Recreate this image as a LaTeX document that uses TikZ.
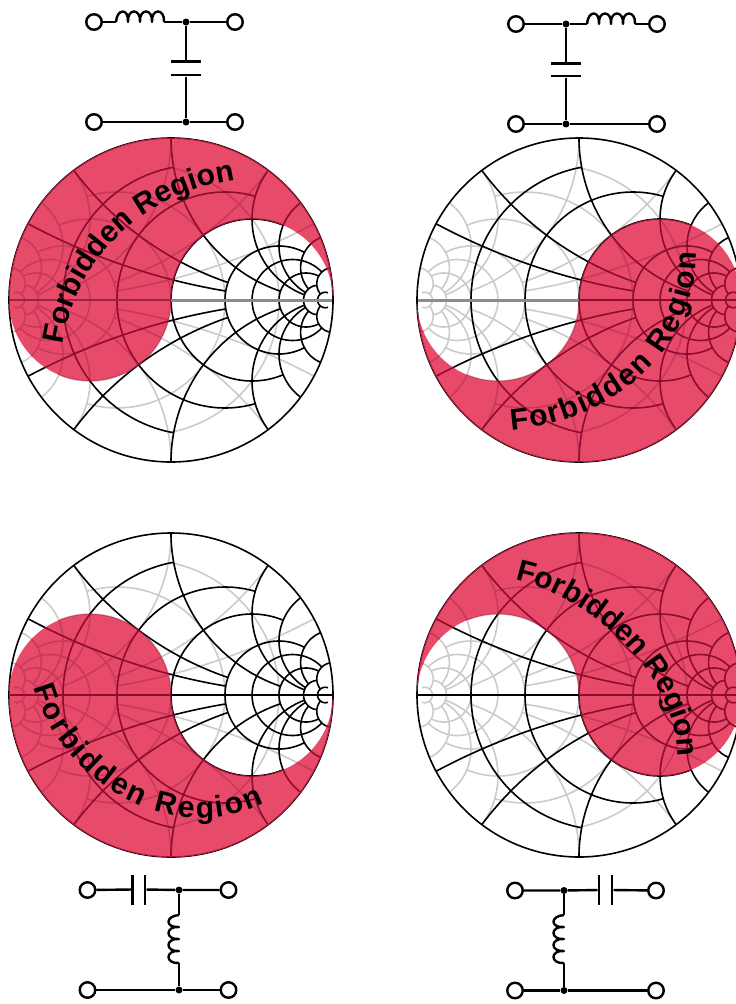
\documentclass[tikz,border=0pt]{standalone}
\usepackage{fontspec}
\usetikzlibrary{decorations.text}
\newfontfamily\lblfam{Liberation Sans}
\newcommand{\lbl}{\lblfam\bfseries\fontsize{30}{32}\selectfont}
\definecolor{pinkfill}{HTML}{E84A69}
\definecolor{greyline}{HTML}{CBCBCB}
\definecolor{greypink}{HTML}{C93A5A}
\definecolor{darkpink}{HTML}{8E0C30}
\definecolor{rimpink}{HTML}{B0143A}
\tikzset{
  declare function={smu(\r,\x)=(\r*\r+\x*\x-1)/((\r+1)*(\r+1)+\x*\x);
                    smv(\r,\x)=2*\x/((\r+1)*(\r+1)+\x*\x);},
  term/.style={circle,draw=black,fill=white,line width=2.4pt,minimum size=15.5pt,inner sep=0pt},
  junct/.style={circle,fill=black,minimum size=7pt,inner sep=0pt},
  wire/.style={line width=2.4pt,draw=black},
  plateh/.style={rectangle,fill=black,minimum width=30pt,minimum height=2.6pt,inner sep=0pt},
  platev/.style={rectangle,fill=black,minimum width=2.6pt,minimum height=30pt,inner sep=0pt},
  gridline/.style={line width=1.6pt,line join=round},
  forbid/.style={decorate,decoration={text along path,text={|\lbl|Forbidden Region},text align={fit to path}}},
  pics/coil/.style={code={
    \draw[wire,line join=round] (0,0) .. controls (1,-14) and (13,-14) .. (12,0)
      .. controls (11,-14) and (25,-14) .. (24,0)
      .. controls (23,-14) and (37,-14) .. (36,0)
      .. controls (35,-14) and (49,-14) .. (48,0);
  }}
}
% one family of Smith-chart curves, centre at the local origin
\newcommand{\smithgrid}[1]{%
  \foreach \rr/\xm in {0.2/1,0.5/2,1/3,2/5,3/10,5/10,10/10,20/30}{
    \draw[gridline,#1] plot[smooth,domain=-1:1,samples=41,variable=\t]
      ({162*smu(\rr,\xm*\t)},{162*smv(\rr,\xm*\t)});
  }
  \foreach \xx/\rm in {0.25/2,0.5/2,1/5,2/10,3/10,5/10,10/20}{
    \draw[gridline,#1] plot[smooth,domain=0:1,samples=31,variable=\t]
      ({162*smu(\rm*\t*\t,\xx)},{162*smv(\rm*\t*\t,\xx)});
    \draw[gridline,#1] plot[smooth,domain=0:1,samples=31,variable=\t]
      ({162*smu(\rm*\t*\t,-\xx)},{162*smv(\rm*\t*\t,-\xx)});
  }
}
% #1 cx, #2 cy, #3 pink path, #4 axis style on white, #5 axis style on pink
\newcommand{\smithchart}[5]{%
  \begin{scope}[shift={(#1,#2)}]
    \begin{scope}[xscale=-1]\smithgrid{greyline}\end{scope}
    \smithgrid{black}
    \draw[#4] (-162,0) -- (162,0);
    \draw[gridline,black] (0,0) circle[radius=162];
    \begin{scope}
      \path[clip] #3;
      \fill[pinkfill] (-170,-170) rectangle (170,170);
      \begin{scope}[xscale=-1]\smithgrid{greypink}\end{scope}
      \smithgrid{darkpink}
      \draw[#5] (-162,0) -- (162,0);
      \draw[gridline,rimpink] (0,0) circle[radius=162];
    \end{scope}
  \end{scope}
}
\begin{document}
\begin{tikzpicture}[x=1pt,y=-1pt]
\useasboundingbox (0,0) rectangle (736,1004);
\clip (0,0) rectangle (736,1004);

\smithchart{171}{300}{(162,0) arc[start angle=0,end angle=-180,radius=162] arc[start angle=180,end angle=0,radius=81] arc[start angle=180,end angle=360,radius=81] -- cycle}
  {line width=3pt,draw=black!45}{line width=2.6pt,draw=darkpink!90}
\smithchart{579}{300}{(-162,0) arc[start angle=180,end angle=0,radius=162] arc[start angle=0,end angle=-180,radius=81] arc[start angle=0,end angle=180,radius=81] -- cycle}
  {line width=3pt,draw=black!45}{line width=1.3pt,draw=darkpink}
\smithchart{171}{695}{(-162,0) arc[start angle=180,end angle=0,radius=162] arc[start angle=0,end angle=180,radius=81] arc[start angle=0,end angle=-180,radius=81] -- cycle}
  {line width=1.5pt,draw=black}{line width=1.5pt,draw=darkpink}
\smithchart{579}{695}{(-162,0) arc[start angle=180,end angle=360,radius=162] arc[start angle=0,end angle=180,radius=81] arc[start angle=0,end angle=-180,radius=81] -- cycle}
  {line width=1.5pt,draw=black}{line width=1.5pt,draw=darkpink}

\path[forbid] (63,345) .. controls (75,265) and (135,195) .. (235,180);
\path[forbid] (511,430) .. controls (590,425) and (695,370) .. (696,252);
\path[forbid] (34,687) .. controls (60,780) and (170,850) .. (264,803);
\path[forbid] (515,580) .. controls (590,595) and (675,675) .. (678,753);

% top-left network
\node[term] (a1) at (94,22) {};
\node[term] (a2) at (235,22) {};
\node[term] (a3) at (94,122) {};
\node[term] (a4) at (235,122) {};
\node[junct] (aj) at (186,22) {};
\node[junct] (ak) at (186,122) {};
\coordinate (a5) at (116,22);
\coordinate (a6) at (164,22);
\node[plateh] (a7) at (186,61.5) {};
\node[plateh] (a8) at (186,75) {};
\draw[wire] (a1) -- (a5);
\pic at (a5) {coil};
\draw[wire] (a6) -- (aj) -- (a2);
\draw[wire] (aj) -- (a7);
\draw[wire] (a8) -- (ak);
\draw[wire] (a3) -- (ak) -- (a4);

% top-right network
\node[term] (b1) at (516,24) {};
\node[term] (b2) at (657,24) {};
\node[term] (b3) at (516,124) {};
\node[term] (b4) at (657,124) {};
\node[junct] (bj) at (566,24) {};
\node[junct] (bk) at (566,124) {};
\coordinate (b5) at (587,24);
\coordinate (b6) at (635,24);
\node[plateh] (b7) at (566,63.5) {};
\node[plateh] (b8) at (566,76) {};
\draw[wire] (b1) -- (bj) -- (b5);
\pic at (b5) {coil};
\draw[wire] (b6) -- (b2);
\draw[wire] (bj) -- (b7);
\draw[wire] (b8) -- (bk);
\draw[wire] (b3) -- (bk) -- (b4);

% bottom-left network
\node[term] (c1) at (87.5,890) {};
\node[term] (c2) at (228.5,890) {};
\node[term] (c3) at (87.5,990) {};
\node[term] (c4) at (228.5,990) {};
\node[junct] (cj) at (179,890) {};
\node[junct] (ck) at (179,990) {};
\node[platev] (c7) at (132.5,889.5) {};
\node[platev] (c8) at (145,889.5) {};
\coordinate (c5) at (179,915);
\coordinate (c6) at (179,963);
\draw[wire] (c1) -- (c7);
\draw[wire] (c8) -- (cj) -- (c2);
\draw[wire] (cj) -- (c5);
\pic[rotate=-90,yscale=-1] at (c5) {coil};
\draw[wire] (c6) -- (ck);
\draw[wire] (c3) -- (ck) -- (c4);

% bottom-right network
\node[term] (d1) at (515,890.5) {};
\node[term] (d2) at (656,890.5) {};
\node[term] (d3) at (515,990.5) {};
\node[term] (d4) at (656,990.5) {};
\node[junct] (dj) at (564,890.5) {};
\node[junct] (dk) at (564,990.5) {};
\node[platev] (d7) at (599,890) {};
\node[platev] (d8) at (612,890) {};
\coordinate (d5) at (564,915);
\coordinate (d6) at (564,963);
\draw[wire] (d1) -- (dj) -- (d7);
\draw[wire] (d8) -- (d2);
\draw[wire] (dj) -- (d5);
\pic[rotate=-90,yscale=-1] at (d5) {coil};
\draw[wire] (d6) -- (dk);
\draw[wire] (d3) -- (dk) -- (d4);
\end{tikzpicture}
\end{document}
